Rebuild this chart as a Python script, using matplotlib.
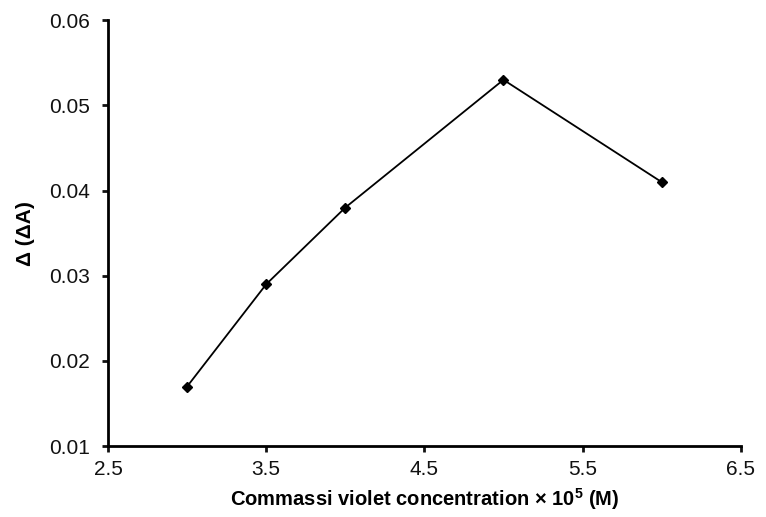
import matplotlib
matplotlib.use("Agg")
import matplotlib.pyplot as plt

# data
concentration = [3.0, 3.5, 4.0, 5.0, 6.0]
delta_abs = [0.017, 0.029, 0.038, 0.053, 0.041]
x_ticks = [2.5, 3.5, 4.5, 5.5, 6.5]
y_ticks = [0.01, 0.02, 0.03, 0.04, 0.05, 0.06]

plt.rcParams['font.family'] = ['Liberation Sans', 'DejaVu Sans']
plt.rcParams['mathtext.default'] = 'bf'

fig = plt.figure(figsize=(7.66, 5.17), dpi=100)
ax = fig.add_axes([0.141, 0.137, 0.826, 0.824])

ax.plot(concentration, delta_abs, color="black", linewidth=1.3,
        marker="D", markersize=5.5, markerfacecolor="black", markeredgecolor="black")

ax.set_xlim(2.5, 6.5)
ax.set_ylim(0.01, 0.06)
ax.set_xticks(x_ticks)
ax.set_xticklabels(["2.5", "3.5", "4.5", "5.5", "6.5"])
ax.set_yticks(y_ticks)
ax.set_yticklabels(["0.01", "0.02", "0.03", "0.04", "0.05", "0.06"])

for side in ["top", "right"]:
    ax.spines[side].set_visible(False)
for side in ["left", "bottom"]:
    ax.spines[side].set_linewidth(2)
ax.tick_params(direction="out", length=4, width=2, labelsize=15, colors="#111111")
ax.tick_params(axis="x", pad=6)
ax.tick_params(axis="y", pad=9)

# superscript kept small, as in the reference
ax.set_xlabel("Commassi violet concentration × 10$^{\\mathregular{5}}$ (M)", fontsize=14.5,
              fontweight="bold", labelpad=5)
ax.set_ylabel("Δ (ΔA)", fontsize=15, fontweight="bold", labelpad=10)

fig.savefig("out.png", dpi=100)
